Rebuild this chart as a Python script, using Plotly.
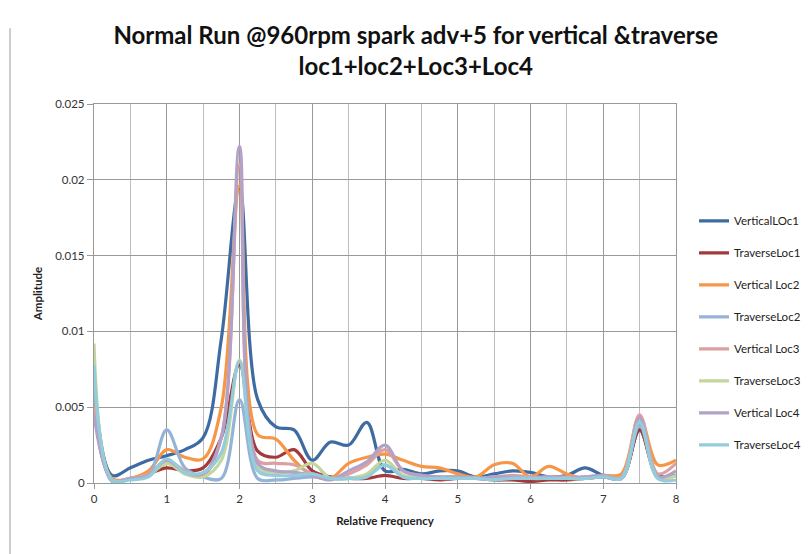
import plotly.graph_objects as go

freq = [0, 0.25, 0.5, 0.75, 1, 1.25, 1.5, 1.75, 2, 2.25, 2.5, 2.75, 3, 3.25, 3.5, 3.75, 4,
        4.25, 4.5, 4.75, 5, 5.25, 5.5, 5.75, 6, 6.25, 6.5, 6.75, 7, 7.25, 7.5, 7.75, 8]

vertical_loc1 = [0.0070, 0.0005, 0.0010, 0.0015, 0.0018, 0.0022, 0.0030, 0.0095, 0.0195, 0.0055, 0.0037, 0.0035, 0.0015,
                 0.0027, 0.0025, 0.0040, 0.0008, 0.0009, 0.0006, 0.0008, 0.0008, 0.0004, 0.0006, 0.0008,
                 0.0007, 0.0004, 0.0005, 0.0010, 0.0005, 0.0003, 0.0035, 0.0005, 0.0005]
traverse_loc1 = [0.0050, 0.0002, 0.0003, 0.0006, 0.0010, 0.0008, 0.0010, 0.0030, 0.0078, 0.0021, 0.0017, 0.0022, 0.0008,
                 0.0004, 0.0003, 0.0003, 0.0005, 0.0003, 0.0003, 0.0002, 0.0003, 0.0003, 0.0002, 0.0002,
                 0.0001, 0.0002, 0.0002, 0.0003, 0.0004, 0.0003, 0.0035, 0.0004, 0.0005]
vertical_loc2 = [0.0058, 0.0003, 0.0003, 0.0008, 0.0022, 0.0017, 0.0016, 0.0050, 0.0196, 0.0032, 0.0029, 0.0015, 0.0005,
                 0.0003, 0.0013, 0.0017, 0.0019, 0.0015, 0.0011, 0.0010, 0.0006, 0.0004, 0.0012, 0.0013,
                 0.0004, 0.0011, 0.0006, 0.0003, 0.0005, 0.0006, 0.0044, 0.0012, 0.0015]
traverse_loc2 = [0.0070, 0.0001, 0.0003, 0.0005, 0.0035, 0.0010, 0.0004, 0.0003, 0.0055, 0.0003, 0.0002, 0.0003, 0.0004,
                 0.0003, 0.0003, 0.0005, 0.0012, 0.0004, 0.0003, 0.0003, 0.0003, 0.0003, 0.0003, 0.0003,
                 0.0003, 0.0003, 0.0003, 0.0003, 0.0004, 0.0003, 0.0038, 0.0004, 0.0005]
vertical_loc3 = [0.0050, 0.0002, 0.0003, 0.0006, 0.0015, 0.0008, 0.0005, 0.0030, 0.0210, 0.0015, 0.0013, 0.0012, 0.0006,
                 0.0003, 0.0006, 0.0012, 0.0022, 0.0008, 0.0005, 0.0004, 0.0004, 0.0003, 0.0004, 0.0005,
                 0.0004, 0.0004, 0.0004, 0.0004, 0.0005, 0.0004, 0.0045, 0.0006, 0.0013]
traverse_loc3 = [0.0092, 0.0002, 0.0003, 0.0005, 0.0013, 0.0006, 0.0004, 0.0015, 0.0081, 0.0010, 0.0007, 0.0008, 0.0013,
                 0.0003, 0.0003, 0.0006, 0.0015, 0.0005, 0.0004, 0.0003, 0.0003, 0.0003, 0.0003, 0.0004,
                 0.0003, 0.0003, 0.0003, 0.0003, 0.0005, 0.0003, 0.0042, 0.0003, 0.0005]
vertical_loc4 = [0.0045, 0.0002, 0.0003, 0.0005, 0.0015, 0.0007, 0.0006, 0.0030, 0.0222, 0.0013, 0.0008, 0.0007, 0.0005,
                 0.0002, 0.0008, 0.0014, 0.0025, 0.0008, 0.0005, 0.0004, 0.0004, 0.0003, 0.0004, 0.0004,
                 0.0003, 0.0004, 0.0003, 0.0004, 0.0005, 0.0003, 0.0043, 0.0004, 0.0008]
traverse_loc4 = [0.0078, 0.0002, 0.0002, 0.0004, 0.0016, 0.0007, 0.0007, 0.0020, 0.0080, 0.0008, 0.0005, 0.0005, 0.0006,
                 0.0003, 0.0003, 0.0004, 0.0012, 0.0004, 0.0003, 0.0003, 0.0003, 0.0003, 0.0002, 0.0003,
                 0.0003, 0.0003, 0.0003, 0.0003, 0.0004, 0.0003, 0.0040, 0.0003, 0.0002]

series_names = ["VerticalLOc1", "TraverseLoc1", "Vertical Loc2", "TraverseLoc2",
                "Vertical Loc3", "TraverseLoc3", "Vertical Loc4", "TraverseLoc4"]
series_values = [vertical_loc1, traverse_loc1, vertical_loc2, traverse_loc2,
                 vertical_loc3, traverse_loc3, vertical_loc4, traverse_loc4]
colors = ["#3E6CA2", "#A3393A", "#F79646", "#95B3D7", "#DDA0A0", "#C3D69B", "#B3A2C7", "#93CDDD"]

y_ticks = [0, 0.005, 0.01, 0.015, 0.02, 0.025]
y_tick_labels = ["0", "0.005", "0.01", "0.015", "0.02", "0.025"]
x_ticks = [0, 1, 2, 3, 4, 5, 6, 7, 8]

FONT = "Lato"

fig = go.Figure()
for i, (name, vals) in enumerate(zip(series_names, series_values)):
    fig.add_trace(go.Scatter(
        x=freq, y=vals, name=name, mode="lines",
        line=dict(color=colors[i], width=3.2, shape="spline", smoothing=1.0),
        legendgroup=f"g{i}",
    ))

fig.update_layout(
    width=801, height=546,
    paper_bgcolor="white", plot_bgcolor="white",
    margin=dict(l=86, r=133, t=96, b=71, autoexpand=False),
    font=dict(family=FONT, color="#333333"),
    title=dict(
        text="<b>Normal Run @960rpm spark adv+5 for vertical &traverse<br>loc1+loc2+Loc3+Loc4</b>",
        x=0.509, xanchor="center", y=0.934, yanchor="top",
        font=dict(family=FONT, size=24, color="#111111"),
    ),
    showlegend=True,
    legend=dict(
        x=1.031, xanchor="left", y=0.73, yanchor="top",
        font=dict(family=FONT, size=11.5, color="#222222"),
        tracegroupgap=13, itemwidth=30, bgcolor="rgba(0,0,0,0)",
    ),
    xaxis=dict(
        range=[0, 8], tickvals=x_ticks, ticktext=[str(v) for v in x_ticks],
        showgrid=True, gridcolor="#999999", gridwidth=1.3,
        minor=dict(dtick=0.5, showgrid=True, gridcolor="#bdbdbd", gridwidth=1.2),
        showline=True, linecolor="#999999", linewidth=1.3, mirror=True,
        ticks="outside", ticklen=5, tickcolor="#999999",
        tickfont=dict(family=FONT, size=11.5, color="#333333"),
        title=dict(text="<b>Relative Frequency</b>", font=dict(family=FONT, size=11.5, color="#222222"), standoff=12),
        zeroline=False, automargin=False,
    ),
    yaxis=dict(
        range=[0, 0.025], tickvals=y_ticks, ticktext=y_tick_labels,
        showgrid=True, gridcolor="#999999", gridwidth=1.3,
        showline=True, linecolor="#999999", linewidth=1.3, mirror=True,
        ticks="outside", ticklen=6, tickcolor="#999999",
        tickfont=dict(family=FONT, size=11.5, color="#333333"),
        title=dict(text="<b>Amplitude</b>", font=dict(family=FONT, size=11.5, color="#222222"), standoff=10),
        zeroline=False, automargin=False,
    ),
)

fig.add_shape(type="line", xref="paper", yref="paper",
              x0=(2 - 86) / 582, x1=(2 - 86) / 582, y0=-0.2, y1=1.2,
              line=dict(color="#9a9a9a", width=1))

fig.write_html("out.html")
